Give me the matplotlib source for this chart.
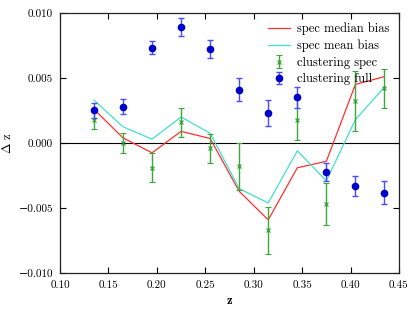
"""Redshift bias from clustering vs. spectroscopic median/mean bias."""

import matplotlib
matplotlib.use("Agg")
import matplotlib.pyplot as plt

z_bins = [0.135, 0.165, 0.195, 0.225, 0.255, 0.285, 0.315, 0.345, 0.375, 0.405, 0.435]

median_bias = [0.0026, 0.0004, -0.00075, 0.0009, 0.00035, -0.0037, -0.0059,
               -0.0019, -0.0014, 0.0045, 0.0051]
mean_bias = [0.0033, 0.00125, 0.0003, 0.002, 0.00075, -0.0035, -0.0046,
             -0.0006, -0.0029, 0.0018, 0.0043]

clust_spec = [0.0018, 0.0, -0.0019, 0.0016, -0.0004, -0.0018, -0.0067,
              0.0018, -0.0047, 0.0032, 0.0042]
clust_spec_err = [0.0007, 0.0008, 0.0011, 0.0011, 0.0011, 0.0018, 0.0018,
                  0.0016, 0.0016, 0.0023, 0.0015]

clust_full = [0.0025, 0.0028, 0.0073, 0.0089, 0.0072, 0.0041, 0.0023,
              0.0035, -0.0022, -0.0033, -0.0038]
clust_full_err = [0.0006, 0.0006, 0.0005, 0.0007, 0.0007, 0.0009, 0.001,
                  0.0008, 0.0007, 0.0008, 0.0009]

x_ticks = [0.10, 0.15, 0.20, 0.25, 0.30, 0.35, 0.40, 0.45]
y_ticks = [-0.010, -0.005, 0.000, 0.005, 0.010]

plt.rcParams.update({
    "font.family": ["cmr10", "DejaVu Serif"],
    "mathtext.fontset": "cm",
    "axes.formatter.use_mathtext": True,
    "axes.unicode_minus": True,
})

fig = plt.figure(figsize=(4.15, 3.12), dpi=100)
ax = fig.add_axes([0.1446, 0.124, 0.8168, 0.835])

ax.axhline(0, color="black", lw=0.8, zorder=1)
ax.plot(z_bins, median_bias, color="#ff3030", lw=0.9, label="spec median bias")
ax.plot(z_bins, mean_bias, color="#40e0d0", lw=0.9, label="spec mean bias")
ax.errorbar(z_bins, clust_spec, yerr=clust_spec_err, fmt="x", color="#2ca02c",
            ms=3.5, mew=0.8, elinewidth=1.0, capsize=2.3, ecolor="#3aa83a",
            label="clustering spec")
ax.errorbar(z_bins, clust_full, yerr=clust_full_err, fmt="o", color="#0000cc",
            ms=4.5, elinewidth=1.0, capsize=2.3, ecolor="#4a4aff",
            label="clustering full")

ax.set_xlim(0.10, 0.45)
ax.set_ylim(-0.010, 0.010)
ax.set_xticks(x_ticks)
ax.set_yticks(y_ticks)
ax.set_xticklabels([f"{t:.2f}" for t in x_ticks])
ax.set_yticklabels([f"{t:.3f}".replace("-", "\u2212") for t in y_ticks])
ax.tick_params(direction="in", top=True, right=True, length=4, width=0.8,
               labelsize=8, pad=5)
for spine in ax.spines.values():
    spine.set_linewidth(0.9)
    spine.set_color("#222222")

ax.set_xlabel(r"$\mathbf{z}$", fontsize=9, labelpad=4)
ax.set_ylabel(r"$\Delta$ z", fontsize=9)
ax.yaxis.set_label_coords(-0.135, 0.5)

ax.legend(loc="upper right", frameon=False, fontsize=9, handlelength=1.8,
          handletextpad=0.5, borderaxespad=0.4, labelspacing=0.35)

fig.savefig("out.png", dpi=100)
